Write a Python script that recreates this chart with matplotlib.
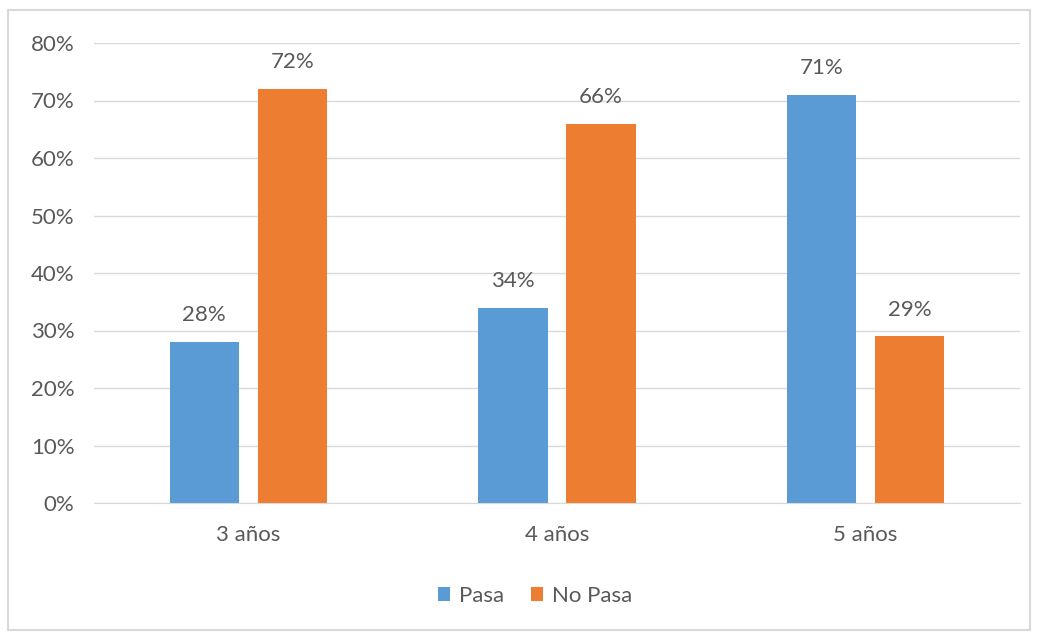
import numpy as np
import matplotlib.pyplot as plt
from matplotlib.patches import Rectangle

categories = ["3 años", "4 años", "5 años"]
pasa = [28, 34, 71]
no_pasa = [72, 66, 29]
series_names = ["Pasa", "No Pasa"]
yticks = [0, 10, 20, 30, 40, 50, 60, 70, 80]

blue = "#5B9BD5"
orange = "#ED7D31"
txt = "#595959"

plt.rcParams['font.family'] = ['Lato', 'DejaVu Sans']

fig = plt.figure(figsize=(10.4, 6.32), dpi=100)
# chart area border
fig.patches.append(Rectangle((8/1040, 2/632), 1022/1040, 620/632, transform=fig.transFigure,
                             fill=False, edgecolor="#D9D9D9", lw=1.5))
ax = fig.add_axes([94/1040, 1 - 503/632, 926/1040, 460/632])

x = np.arange(len(categories))
w = 0.225
gap = 0.06
b1 = ax.bar(x - (w + gap)/2, pasa, w, color=blue, label=series_names[0], zorder=2)
b2 = ax.bar(x + (w + gap)/2, no_pasa, w, color=orange, label=series_names[1], zorder=2)

for bars, vals in ((b1, pasa), (b2, no_pasa)):
    for r, v in zip(bars, vals):
        ax.annotate(f"{v}%", (r.get_x() + r.get_width()/2, v), xytext=(0, 12),
                    textcoords="offset points", ha="center", va="bottom",
                    fontsize=16, color=txt)

ax.set_xlim(-0.5, 2.5)
ax.set_ylim(0, 80)
ax.set_yticks(yticks)
ax.set_yticklabels([f"{t}%" for t in yticks])
ax.set_xticks(x)
ax.set_xticklabels(categories)
ax.tick_params(length=0, labelsize=16, colors=txt)
ax.tick_params(axis="y", pad=14)
ax.tick_params(axis="x", pad=16)
ax.grid(axis="y", color="#D9D9D9", lw=1, zorder=0)
for s in ["top", "right", "left"]:
    ax.spines[s].set_visible(False)
ax.spines["bottom"].set_color("#D9D9D9")

fig.legend(handles=[b1, b2], loc="center", bbox_to_anchor=(535/1040, 1 - 596/632),
           ncol=2, frameon=False, fontsize=16, labelcolor=txt,
           handlelength=0.55, handleheight=0.55, handletextpad=0.4, columnspacing=1.2)

fig.savefig("out.png", dpi=100)
